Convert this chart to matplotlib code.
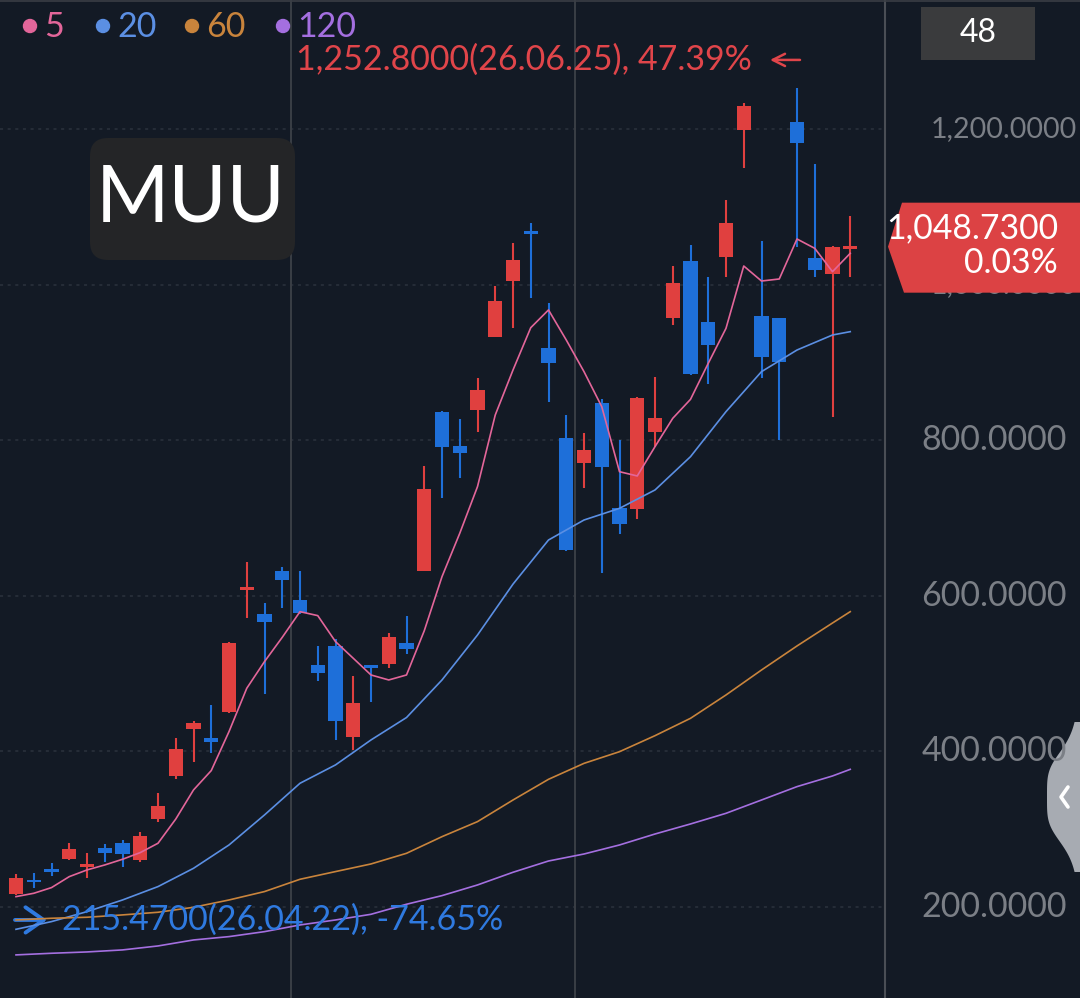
import numpy as np
import matplotlib
matplotlib.use('Agg')
import matplotlib.pyplot as plt
import matplotlib.transforms as transforms
from matplotlib.patches import FancyBboxPatch, Polygon, Circle, Rectangle
from matplotlib.lines import Line2D

plt.rcParams['font.family'] = ['Lato', 'DejaVu Sans']

# daily candles, oldest first
opens = [216.8, 233.0, 246.0, 261.7, 252.0, 275.4, 282.7, 260.5, 312.7, 368.4,
         428.8, 417.7, 450.7, 607.5, 576.6, 631.9, 594.6, 511.1, 535.5, 418.1,
         510.2, 511.9, 538.9, 632.3, 835.8, 792.5, 838.8, 933.1, 1004.6, 1066.5,
         918.1, 802.8, 771.1, 847.4, 712.4, 711.6, 811.0, 956.7, 1030.8, 952.4,
         1035.9, 1198.7, 959.6, 956.6, 1208.6, 1033.8, 1013.6, 1046.0]
highs = [242.4, 244.0, 257.0, 282.0, 269.0, 281.0, 286.0, 296.4, 347.0, 416.8,
         439.0, 459.7, 540.0, 643.0, 590.3, 637.5, 632.3, 536.0, 544.0, 497.0,
         510.5, 552.6, 574.0, 767.3, 838.0, 827.2, 879.5, 998.2, 1053.9, 1079.6,
         976.0, 832.4, 808.8, 853.0, 800.3, 856.0, 881.7, 1023.9, 1051.0, 1009.3,
         1108.7, 1233.8, 1056.0, 957.0, 1252.8, 1155.0, 1050.0, 1088.2]
lows = [215.47, 224.0, 240.0, 261.0, 237.0, 258.0, 252.0, 258.3, 309.7, 364.1,
        386.8, 397.6, 449.8, 572.0, 473.4, 584.8, 576.5, 491.0, 414.7, 401.8,
        464.0, 506.8, 525.0, 631.5, 725.3, 751.0, 811.0, 932.0, 943.8, 983.2,
        849.5, 658.0, 738.2, 629.7, 679.0, 698.3, 791.7, 948.1, 883.8, 871.8,
        1010.2, 1150.3, 879.5, 800.3, 1048.8, 1010.2, 829.4, 1010.2]
closes = [237.7, 231.5, 245.0, 275.0, 253.5, 269.0, 268.2, 291.7, 329.9, 403.6,
          437.0, 411.7, 538.9, 609.0, 565.9, 620.3, 577.5, 501.2, 439.5, 462.7,
          507.2, 546.6, 531.7, 737.3, 791.7, 783.1, 864.1, 978.9, 1031.6, 1065.0,
          899.7, 658.9, 787.4, 765.1, 691.9, 854.7, 828.1, 1002.5, 885.1, 922.4,
          1078.7, 1230.0, 906.5, 901.0, 1181.6, 1018.8, 1048.4, 1048.73]

# moving averages
ma5 = [213.3, 217.6, 224.9, 239.0, 247.6, 254.0, 261.3, 269.9, 281.9, 313.0,
       350.4, 375.3, 425.4, 481.1, 515.4, 546.6, 579.6, 574.5, 541.1, 519.7,
       498.2, 491.8, 498.2, 555.0, 624.6, 680.3, 740.3, 832.4, 890.2, 944.6,
       967.4, 928.8, 888.1, 843.1, 759.5, 754.0, 791.7, 828.1, 852.5, 898.8,
       943.8, 1023.9, 1004.6, 1007.2, 1058.6, 1046.6, 1016.6, 1040.2]
ma_idx = [0, 2, 4, 6, 8, 10, 12, 14, 16, 18, 20, 22, 24, 26, 28, 30, 32, 34,
          36, 38, 40, 42, 44, 46, 47]
ma20 = [171.3, 181.2, 194.0, 209.0, 226.2, 249.7, 279.7, 318.3, 359.0, 382.6,
        414.7, 443.5, 491.8, 549.6, 615.0, 671.7, 697.4, 712.4, 736.0, 778.8,
        836.7, 888.1, 915.9, 935.2, 939.5]
ma60 = [183.3, 185.5, 186.8, 189.8, 193.2, 199.6, 209.0, 219.8, 235.6, 245.5,
        255.3, 269.0, 290.4, 309.7, 337.5, 364.1, 384.6, 399.6, 420.2, 442.5,
        472.5, 504.6, 535.5, 565.0, 579.6]
ma120 = [138.4, 140.5, 142.2, 144.8, 149.9, 157.6, 161.9, 168.3, 176.9, 183.3,
         190.6, 203.5, 214.6, 228.3, 244.6, 259.1, 268.1, 279.7, 293.8, 306.7,
         320.4, 337.5, 354.7, 368.4, 376.9]

price_ticks = [200, 400, 600, 800, 1000, 1200]
month_breaks = [15.5, 31.5]
ma_names = ['5', '20', '60', '120']
symbol = 'MUU'
last_change = '0.03%'
max_label = '1,252.8000(26.06.25), 47.39%'
min_label = '215.4700(26.04.22), -74.65%'

BG = '#131a25'
UP = '#e0403f'
DOWN = '#1e6fd9'
MA_COLORS = ['#e3669a', '#5b8fe3', '#c9843c', '#a46fe0']
GRID = '#2b323d'
AXIS_TXT = '#7b7f86'

W, H = 1080, 998
fig = plt.figure(figsize=(W / 100, H / 100), dpi=100, facecolor=BG)
ax = fig.add_axes([0, 0, 885 / W, 1])
ax.set_facecolor(BG)
for s in ax.spines.values():
    s.set_visible(False)
ax.set_xticks([])
ax.set_yticks([])

step = 17.75
ax.set_xlim(-16 / step, (885 - 16) / step)
ax.set_ylim(83.0, 1365.8)

# grid
for p in price_ticks:
    ax.axhline(p, color=GRID, lw=1.1, ls=(0, (2, 3)), zorder=0)
for b in month_breaks:
    ax.axvline(b, color='#3a3e45', lw=1.4, zorder=0)

# candles
n = len(closes)
idx = np.arange(n)
o = np.array(opens)
c = np.array(closes)
colors = [UP if cc >= oo else DOWN for oo, cc in zip(o, c)]
ax.vlines(idx, lows, highs, colors=colors, lw=1.5, zorder=2)
bottoms = np.minimum(o, c)
heights = np.maximum(np.abs(c - o), 3.5)
ax.bar(idx, heights, bottom=bottoms, width=0.8, color=colors, lw=0, zorder=3)

# moving averages
ax.plot(idx, ma5, color=MA_COLORS[0], lw=1.2, zorder=4)
ax.plot(ma_idx, ma20, color=MA_COLORS[1], lw=1.2, zorder=4)
ax.plot(ma_idx, ma60, color=MA_COLORS[2], lw=1.2, zorder=4)
ax.plot(ma_idx, ma120, color=MA_COLORS[3], lw=1.2, zorder=4)

px = transforms.IdentityTransform()


def top(y):
    return H - y


def shifted(dx, dy):
    return transforms.offset_copy(ax.transData, fig=fig, x=dx, y=dy, units='dots')


# max / min markers
imax = int(np.argmax(highs))
imin = int(np.argmin(lows))
ax.text(imax, highs[imax], max_label, transform=shifted(-45, 28), color='#e0454a',
        fontsize=24.5, ha='right', va='center', zorder=6)
ax.annotate('', xy=(imax, highs[imax]), xytext=(imax, highs[imax]),
            xycoords=shifted(-27, 28), textcoords=shifted(3, 28),
            arrowprops=dict(arrowstyle='->', color='#e0454a', lw=1.8,
                            mutation_scale=22, shrinkA=0, shrinkB=0))

ax.text(imin, lows[imin], min_label, transform=shifted(46, -25), color='#2f7ae0',
        fontsize=24.5, ha='left', va='center', zorder=6)
ax.annotate('', xy=(imin, lows[imin]), xytext=(imin, lows[imin]),
            xycoords=shifted(31, -25), textcoords=shifted(-1, -25),
            arrowprops=dict(arrowstyle='->,head_length=0.5,head_width=0.35',
                            color='#2f7ae0', lw=2.8, mutation_scale=26,
                            shrinkA=0, shrinkB=0))

# plot border at right and top
fig.add_artist(Line2D([885, 885], [0, H], transform=px, color='#4a4e55', lw=1.5))
fig.add_artist(Line2D([0, W], [H - 1, H - 1], transform=px, color='#3a3e45', lw=1.2))

# price axis labels
ty = transforms.blended_transform_factory(px, ax.transData)
for p in price_ticks:
    big = p >= 1000
    fig.text(1077 if big else 1067, p, f'{p:,.4f}', transform=ty, color=AXIS_TXT,
             fontsize=20.5 if big else 24.5, ha='right', va='center', zorder=2)

# last price tag
yc = ax.transData.transform((0, closes[-1]))[1]
tag = Polygon([(888, yc), (902, yc + 44), (W, yc + 44), (W, yc - 46), (904, yc - 46)],
              closed=True, transform=px, facecolor='#dc4244', edgecolor='none', zorder=5)
fig.add_artist(tag)
fig.text(1058, yc + 18, f'{closes[-1]:,.4f}', transform=px, color='white',
         fontsize=24.3, ha='right', va='center', zorder=6)
fig.text(1058, yc - 16, last_change, transform=px, color='white',
         fontsize=24.3, ha='right', va='center', zorder=6)

# candle count box
fig.add_artist(Rectangle((921, top(60)), 114, 53, transform=px,
                         facecolor='#3a3b3d', edgecolor='none'))
fig.text(978, top(33), str(n), transform=px, color='white', fontsize=23,
         ha='center', va='center')

# symbol box
fig.add_artist(FancyBboxPatch((90, top(260)), 205, 122, transform=px,
                              boxstyle='round,pad=0,rounding_size=18',
                              facecolor='#242527', edgecolor='none'))
fig.text(191, top(199), symbol, transform=px, color='white', fontsize=57,
         ha='center', va='center')

# legend
for name, col, xd in zip(ma_names, MA_COLORS, [30, 103, 192, 283]):
    fig.add_artist(Circle((xd, top(26)), 6.5, transform=px, color=col))
    fig.text(xd + 14, top(27), name, transform=px, color=col, fontsize=24.5,
             ha='left', va='center')

# side handle
yy = np.linspace(-75, 75, 80)
ww = 33 / (1 + (yy / 50) ** 4)
pts = [(W - w, top(797) + y) for w, y in zip(ww, yy)] + [(W + 2, top(797) + 75), (W + 2, top(797) - 75)]
fig.add_artist(Polygon(pts, closed=True, transform=px, facecolor='#a7abb2', edgecolor='none'))
fig.add_artist(Line2D([1068, 1061, 1068], [top(787), top(797), top(807)], transform=px,
                      color='white', lw=2.6, solid_capstyle='round', solid_joinstyle='round'))

fig.savefig('out.png', dpi=100, facecolor=BG)
